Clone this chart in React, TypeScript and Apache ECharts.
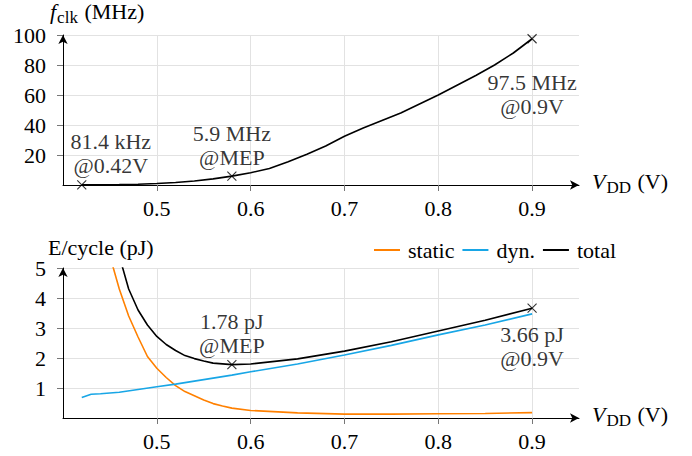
import React, { useEffect, useRef } from "react";
import * as echarts from "echarts";

// ---- Data ----
const vddFreq = [0.42, 0.44, 0.46, 0.48, 0.5, 0.52, 0.54, 0.56, 0.58, 0.6, 0.62, 0.64, 0.66, 0.68, 0.7, 0.72, 0.74, 0.76, 0.78, 0.8, 0.82, 0.84, 0.86, 0.88, 0.9];
const freqMHz = [0.0814, 0.15, 0.3, 0.55, 1.0, 1.7, 2.7, 4.1, 5.9, 8.2, 11, 15.5, 20.5, 26, 32.5, 38, 43, 48, 54, 60, 66.5, 73, 80, 88, 97.5];

const vddStatic = [0.45, 0.46, 0.47, 0.48, 0.49, 0.5, 0.51, 0.52, 0.53, 0.54, 0.55, 0.56, 0.57, 0.58, 0.6, 0.65, 0.7, 0.75, 0.8, 0.85, 0.9];
const staticPJ = [5.4, 4.3, 3.4, 2.7, 2.05, 1.66, 1.35, 1.08, 0.88, 0.74, 0.6, 0.48, 0.4, 0.33, 0.25, 0.17, 0.13, 0.13, 0.14, 0.15, 0.18];

const vddDyn = [0.42, 0.43, 0.44, 0.46, 0.48, 0.5, 0.52, 0.54, 0.56, 0.58, 0.6, 0.65, 0.7, 0.75, 0.8, 0.85, 0.9];
const dynPJ = [0.68, 0.79, 0.81, 0.86, 0.95, 1.04, 1.13, 1.23, 1.33, 1.43, 1.54, 1.8, 2.1, 2.42, 2.77, 3.1, 3.47];

const vddTotal = [0.46, 0.47, 0.48, 0.49, 0.5, 0.51, 0.52, 0.53, 0.54, 0.55, 0.56, 0.58, 0.6, 0.65, 0.7, 0.75, 0.8, 0.85, 0.9];
const totalPJ = [5.4, 4.3, 3.6, 3.1, 2.72, 2.45, 2.25, 2.08, 1.98, 1.9, 1.83, 1.78, 1.8, 1.97, 2.23, 2.54, 2.9, 3.26, 3.66];

const freqMarkVdd = [0.42, 0.58, 0.9];
const freqMarkVal = [0.0814, 5.9, 97.5];
const freqMarkText = ["81.4 kHz\n@0.42V", "5.9 MHz\n@MEP", "97.5 MHz\n@0.9V"];

const energyMarkVdd = [0.58, 0.9];
const energyMarkVal = [1.78, 3.66];
const energyMarkText = ["1.78 pJ\n@MEP", "3.66 pJ\n@0.9V"];

const xTicks = [0.5, 0.6, 0.7, 0.8, 0.9];
const freqTicks = [20, 40, 60, 80, 100];
const energyTicks = [1, 2, 3, 4, 5];
const legendNames = ["static", "dyn.", "total"];

const FONT = "Liberation Serif";
const FS = 22;
const ORANGE = "#ff8000";
const BLUE = "#18a6e6";

const pairs = (xs: number[], ys: number[]) => xs.map((x, i) => [x, ys[i]]);

export default function App() {
  const ref = useRef<HTMLDivElement>(null);

  useEffect(() => {
    if (!ref.current) return;
    const chart = echarts.init(ref.current, null, { renderer: "svg" });

    const xAxisBase = (gridIndex: number) => ({
      type: "value",
      gridIndex,
      min: 0.4,
      max: 0.95,
      interval: 0.1,
      axisLine: {
        show: true,
        lineStyle: { color: "#000", width: 1 },
        symbol: ["none", "arrow"],
        symbolSize: [7, 9],
      },
      axisTick: { show: true, length: 6, customValues: xTicks, lineStyle: { color: "#777" } },
      axisLabel: {
        customValues: xTicks,
        margin: 12,
        fontFamily: FONT,
        fontSize: FS,
        color: "#000",
        formatter: (v: number) => v.toFixed(1),
      },
      splitLine: { show: true, lineStyle: { color: "#e2e2e2", width: 1 } },
    });

    const yAxisBase = (gridIndex: number, max: number, interval: number, ticks: number[]) => ({
      type: "value",
      gridIndex,
      min: 0,
      max,
      interval,
      axisLine: {
        show: true,
        lineStyle: { color: "#000", width: 1 },
        symbol: ["none", "arrow"],
        symbolSize: [7, 9],
      },
      axisTick: { show: true, length: 6, customValues: ticks, lineStyle: { color: "#777" } },
      axisLabel: {
        customValues: ticks,
        margin: 17,
        fontFamily: FONT,
        fontSize: FS,
        color: "#000",
      },
      splitLine: { show: true, lineStyle: { color: "#e2e2e2", width: 1 } },
    });

    const markerStyle = {
      symbol: "path://M0,0L10,10M10,0L0,10",
      symbolSize: 9,
      itemStyle: { color: "none", borderColor: "#000", borderWidth: 1.1 },
    };

    const labelBase = {
      show: true,
      position: "inside",
      fontFamily: FONT,
      fontSize: FS,
      color: "#000",
      lineHeight: 24,
      align: "center",
      verticalAlign: "middle",
    };

    const freqOffsets = [[29, -31], [0, -31], [0, 56]];
    const energyOffsets = [[0, -31], [0, 38]];

    const richAxis = {
      i: { fontFamily: FONT, fontSize: FS, fontStyle: "italic", fill: "#000", lineHeight: 30 },
      s: { fontFamily: FONT, fontSize: 17, fill: "#000", verticalAlign: "bottom", lineHeight: 18, padding: [0, 1, 0, 1] },
      n: { fontFamily: FONT, fontSize: FS, fill: "#000", lineHeight: 30 },
    };

    const option: any = {
      animation: false,
      textStyle: { fontFamily: FONT },
      grid: [
        { left: 63, right: 113, top: 35, height: 150 },
        { left: 63, right: 113, top: 268, height: 150 },
      ],
      xAxis: [xAxisBase(0), xAxisBase(1)],
      yAxis: [yAxisBase(0, 100, 20, freqTicks), yAxisBase(1, 5, 1, energyTicks)],
      legend: {
        data: legendNames,
        left: 369,
        top: 234,
        icon: "rect",
        itemWidth: 26,
        itemHeight: 2,
        itemGap: 8,
        textStyle: { fontFamily: FONT, fontSize: FS, color: "#000", padding: [0, 0, 0, 3] },
      },
      series: [
        {
          name: "fclk",
          type: "line",
          xAxisIndex: 0,
          yAxisIndex: 0,
          data: pairs(vddFreq, freqMHz),
          symbol: "none",
          lineStyle: { color: "#000", width: 1.6 },
          itemStyle: { color: "#000" },
        },
        {
          name: "static",
          type: "line",
          xAxisIndex: 1,
          yAxisIndex: 1,
          data: pairs(vddStatic, staticPJ),
          symbol: "none",
          lineStyle: { color: ORANGE, width: 1.6 },
          itemStyle: { color: ORANGE },
        },
        {
          name: "dyn.",
          type: "line",
          xAxisIndex: 1,
          yAxisIndex: 1,
          data: pairs(vddDyn, dynPJ),
          symbol: "none",
          lineStyle: { color: BLUE, width: 1.6 },
          itemStyle: { color: BLUE },
        },
        {
          name: "total",
          type: "line",
          xAxisIndex: 1,
          yAxisIndex: 1,
          data: pairs(vddTotal, totalPJ),
          symbol: "none",
          lineStyle: { color: "#000", width: 1.6 },
          itemStyle: { color: "#000" },
        },
        {
          name: "freqMarks",
          type: "scatter",
          xAxisIndex: 0,
          yAxisIndex: 0,
          ...markerStyle,
          data: freqMarkVdd.map((x, i) => ({
            value: [x, freqMarkVal[i]],
            label: { ...labelBase, formatter: freqMarkText[i], offset: freqOffsets[i] },
          })),
        },
        {
          name: "energyMarks",
          type: "scatter",
          xAxisIndex: 1,
          yAxisIndex: 1,
          ...markerStyle,
          data: energyMarkVdd.map((x, i) => ({
            value: [x, energyMarkVal[i]],
            label: { ...labelBase, formatter: energyMarkText[i], offset: energyOffsets[i] },
          })),
        },
      ],
      graphic: [
        {
          type: "text",
          left: 50,
          top: 0,
          style: { text: "{i|f}{s|clk}{n| (MHz)}", fontFamily: FONT, rich: richAxis },
        },
        {
          type: "text",
          left: 48,
          top: 236,
          style: { text: "E/cycle (pJ)", fontFamily: FONT, fontSize: FS, fill: "#000" },
        },
        ...[170, 403].map((t) => ({
          type: "text",
          left: 592,
          top: t,
          style: { text: "{i|V}{s|DD}{n| (V)}", fontFamily: FONT, rich: richAxis },
        })),
      ],
    };

    chart.setOption(option);
    return () => chart.dispose();
  }, []);

  return (
    <div
      ref={ref}
      style={{ position: "fixed", left: 0, top: 0, width: 692, height: 456, background: "#fff" }}
    />
  );
}
